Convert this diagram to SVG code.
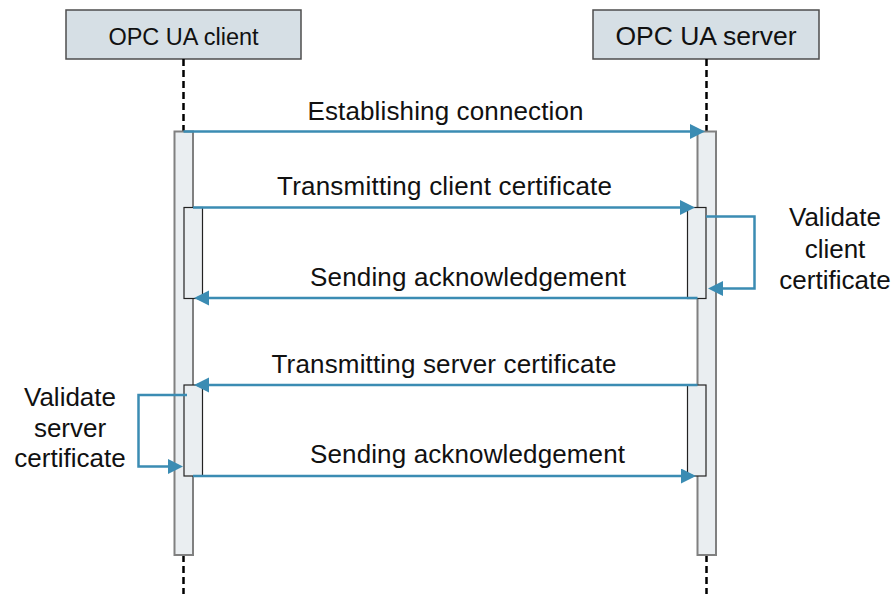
<svg xmlns="http://www.w3.org/2000/svg" width="896" height="594" viewBox="0 0 896 594">
<style>
text{font-family:"Liberation Sans",Arial,sans-serif;fill:#111}
.hdr{fill:#d6dfe5;stroke:#4d4d4d;stroke-width:1.5}
.life{stroke:#000;stroke-width:2.5;stroke-dasharray:7,4;fill:none}
.act{fill:#eaeef1;stroke:#808080;stroke-width:2}
.sub{fill:#eaeef1;stroke:#222;stroke-width:1.2}
.msg{stroke:#3b8cb3;stroke-width:2.5;fill:none}
.lbl{font-size:26px;text-anchor:middle}
</style>
<defs>
<marker id="ah" markerUnits="userSpaceOnUse" markerWidth="16" markerHeight="16" refX="12" refY="7.5" orient="auto">
<path d="M0,0 L15,7.5 L0,15 z" fill="#3b8cb3"/>
</marker>
</defs>
<g id="client">
<rect class="hdr" x="66" y="10" width="235" height="49"/>
<text x="183.5" y="45" font-size="23.5" text-anchor="middle">OPC UA client</text>
<line class="life" x1="183.5" y1="59" x2="183.5" y2="131"/>
<line class="life" x1="183.5" y1="555" x2="183.5" y2="594"/>
<rect class="act" x="174.5" y="131.5" width="18.5" height="423.5"/>
<rect class="sub" x="184" y="207.5" width="18.5" height="91"/>
<rect class="sub" x="184" y="385" width="18.5" height="91"/>
</g>
<g id="server">
<rect class="hdr" x="593" y="10" width="226" height="49"/>
<text x="706" y="45" font-size="26.5" text-anchor="middle">OPC UA server</text>
<line class="life" x1="706.5" y1="59" x2="706.5" y2="131"/>
<line class="life" x1="706.5" y1="555" x2="706.5" y2="594"/>
<rect class="act" x="697.5" y="131.5" width="18.5" height="423.5"/>
<rect class="sub" x="687.5" y="207.5" width="18.5" height="91"/>
<rect class="sub" x="687.5" y="385" width="18.5" height="91"/>
</g>
<g id="connectors">
<path class="msg" d="M183.5,131.5 H702" marker-end="url(#ah)"/>
<path class="msg" d="M193,207.5 H692" marker-end="url(#ah)"/>
<path class="msg" d="M697.5,298 H197" marker-end="url(#ah)"/>
<path class="msg" d="M706,216.5 H754.5 V288.5 H711" marker-end="url(#ah)"/>
<path class="msg" d="M697.5,385 H197" marker-end="url(#ah)"/>
<path class="msg" d="M187,395 H138.5 V466.5 H180" marker-end="url(#ah)"/>
<path class="msg" d="M193,476 H693" marker-end="url(#ah)"/>
</g>
<g id="labels">
<text class="lbl" x="445.5" y="120" textLength="276">Establishing connection</text>
<text class="lbl" x="444.5" y="195" textLength="335">Transmitting client certificate</text>
<text class="lbl" x="468" y="286" textLength="316">Sending acknowledgement</text>
<text class="lbl" x="444" y="373" textLength="345">Transmitting server certificate</text>
<text class="lbl" x="467.5" y="463" textLength="315">Sending acknowledgement</text>
</g>
<g id="validate-client">
<text class="lbl" x="835" y="226">Validate</text>
<text class="lbl" x="835" y="257.5">client</text>
<text class="lbl" x="835" y="289">certificate</text>
</g>
<g id="validate-server">
<text class="lbl" x="70" y="406">Validate</text>
<text class="lbl" x="70" y="437">server</text>
<text class="lbl" x="70" y="467">certificate</text>
</g>
</svg>
